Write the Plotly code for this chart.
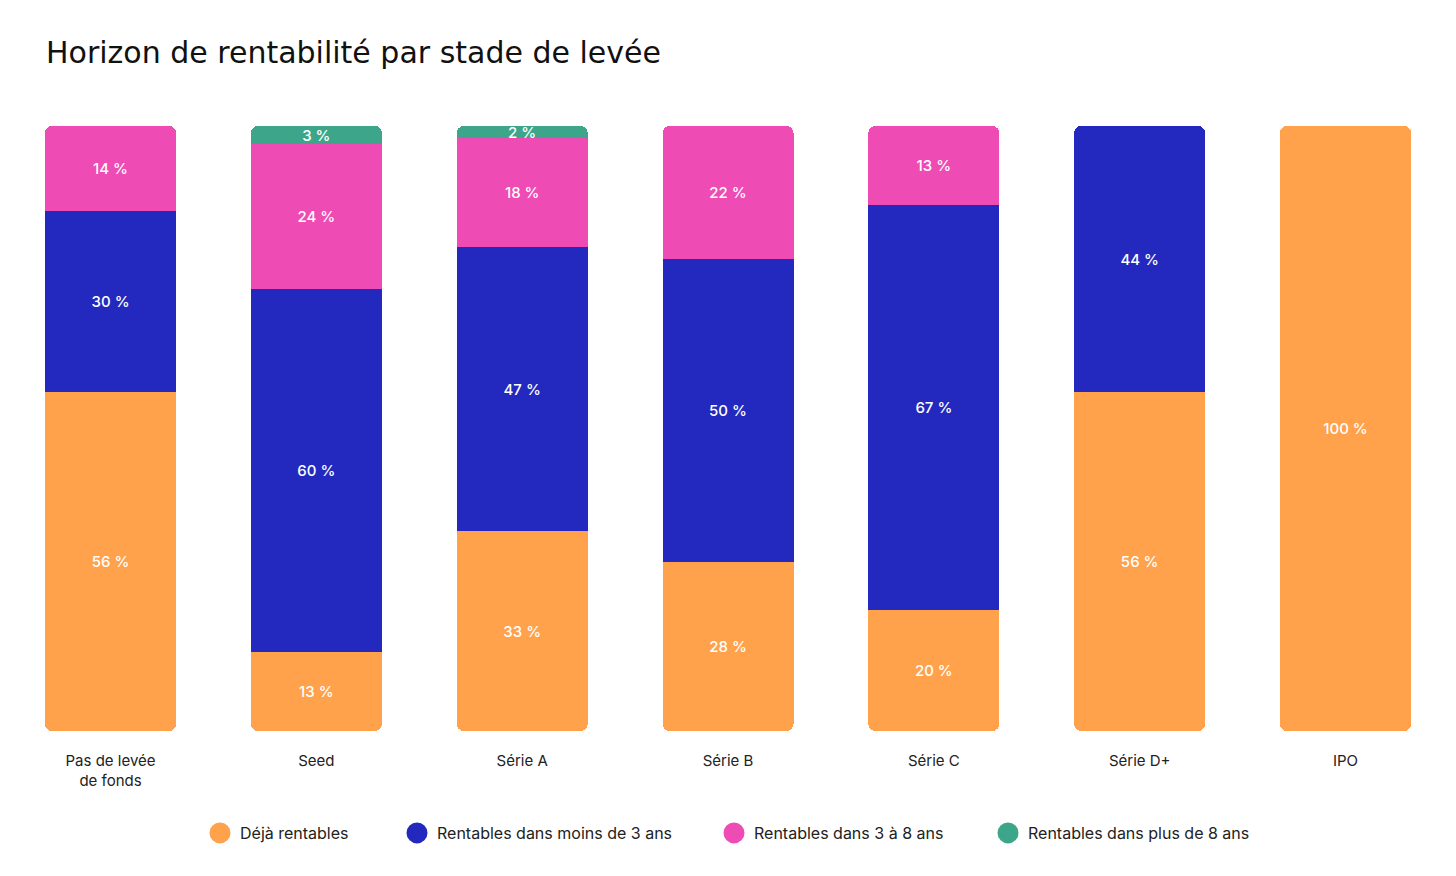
import plotly.graph_objects as go

categories = ["Pas de levée<br>de fonds", "Seed", "Série A", "Série B", "Série C", "Série D+", "IPO"]
series_names = ["Déjà rentables", "Rentables dans moins de 3 ans",
                "Rentables dans 3 à 8 ans", "Rentables dans plus de 8 ans"]
deja = [56, 13, 33, 28, 20, 56, 100]
moins3 = [30, 60, 47, 50, 67, 44, None]
de3a8 = [14, 24, 18, 22, 13, None, None]
plus8 = [None, 3, 2, None, None, None, None]
colors = ["#FFA24B", "#2329BF", "#EE4BB5", "#3DA68A"]

series = [deja, moins3, de3a8, plus8]

# geometry (pixels); the page places the figure 8px in from the corner
OFF = 8
W, H = 1456 - OFF, 876 - OFF
top_px, bot_px = 126 - OFF, 731 - OFF
plot_h = bot_px - top_px
clip = 9 / plot_h          # hide the square ends of each layer
bar_w = 0.6365
xr = [-0.4981, 6.5368]
radius = 7

label_font = dict(color="white", size=15, family="Inter", weight=500)


def labels(vals):
    return [f"{v} %" if v is not None else "" for v in vals]


fig = go.Figure()

# layer A: stacked segments, rounded top (orange labels drawn by layer B)
for k, (name, vals, col) in enumerate(zip(series_names, series, colors)):
    fig.add_trace(go.Bar(
        x=categories, y=vals, name=name, marker=dict(color=col, line=dict(width=0)),
        width=bar_w, text=None if k == 0 else labels(vals),
        textposition="inside", insidetextanchor="middle", constraintext="none",
        textfont=label_font,
        showlegend=False, hoverinfo="skip", xaxis="x", yaxis="y"))

# layer B: orange base piece with rounded bottom
fig.add_trace(go.Bar(
    x=categories, y=[-v for v in deja], base=deja,
    marker=dict(color=colors[0], cornerradius=radius, line=dict(width=0)),
    width=bar_w, text=labels(deja), textposition="inside", insidetextanchor="middle",
    constraintext="none", textfont=label_font,
    showlegend=False, hoverinfo="skip", xaxis="x", yaxis="y2"))

# legend entries
for i, (name, col) in enumerate(zip(series_names, colors)):
    fig.add_trace(go.Scatter(
        x=[None], y=[None], mode="markers", name=name,
        marker=dict(color=col, size=16, symbol="circle", line=dict(color=col, width=5)),
        legend="legend" if i == 0 else f"legend{i+1}", xaxis="x", yaxis="y"))

legend_px = [192, 389, 706, 980]
leg_y = -(833 - OFF - bot_px) / plot_h
legend_common = dict(orientation="h", yanchor="middle", xanchor="left", y=leg_y,
                     font=dict(family="Inter", size=16, color="#222222"),
                     bgcolor="rgba(0,0,0,0)", borderwidth=0)

layout_legends = {}
for i, px in enumerate(legend_px):
    key = "legend" if i == 0 else f"legend{i+1}"
    layout_legends[key] = dict(x=px / W, **legend_common)

fig.update_layout(
    width=W, height=H,
    paper_bgcolor="white", plot_bgcolor="rgba(0,0,0,0)",
    margin=dict(l=0, r=0, t=top_px, b=H - bot_px),
    barmode="stack", barcornerradius=radius,
    uniformtext=dict(minsize=15, mode="show"),
    title=dict(text="Horizon de rentabilité par stade de levée",
               x=(46 - OFF) / W, xref="container", xanchor="left",
               y=1 - (52 - OFF) / H, yref="container", yanchor="middle",
               font=dict(family="DejaVu Sans", size=30, color="#111111")),
    xaxis=dict(type="category", range=xr, anchor="y2", showgrid=False, zeroline=False,
               showline=False, ticks="outside", ticklen=16, tickcolor="rgba(0,0,0,0)",
               tickfont=dict(family="Inter", size=15, color="#222222")),
    yaxis=dict(domain=[clip, 1], range=[100 * clip, 100], visible=False, fixedrange=True),
    yaxis2=dict(domain=[0, 1 - clip], range=[0, 100 * (1 - clip)], visible=False,
                anchor="x", fixedrange=True),
    font=dict(family="Inter"),
    **layout_legends,
)

fig.write_html("out.html")
